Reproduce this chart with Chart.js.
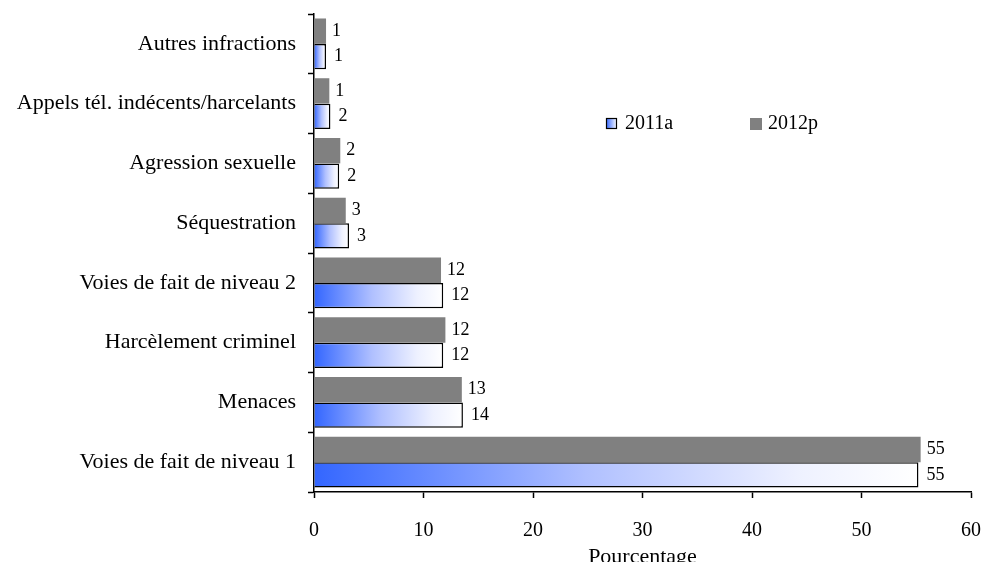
<!DOCTYPE html>
<html>
<head>
<meta charset="utf-8">
<script src="https://cdn.jsdelivr.net/npm/chart.js@4.4.1/dist/chart.umd.min.js"></script>
<style>
    html, body { margin: 0; padding: 0; background: #fff; overflow: hidden; }
    #wrap { width: 984px; height: 562px; }
</style>
</head>
<body>
<div id="wrap"><canvas id="grafico" width="984" height="562"></canvas></div>
<script>
const categories = [
    'Autres infractions',
    'Appels tél. indécents/harcelants',
    'Agression sexuelle',
    'Séquestration',
    'Voies de fait de niveau 2',
    'Harcèlement criminel',
    'Menaces',
    'Voies de fait de niveau 1'
];
const values2012 = [1.1, 1.4, 2.4, 2.9, 11.6, 12.0, 13.5, 55.4];
const values2011 = [1.1, 1.5, 2.3, 3.2, 11.8, 11.8, 13.6, 55.2];
const labels2012 = ['1', '1', '2', '3', '12', '12', '13', '55'];
const labels2011 = ['1', '2', '2', '3', '12', '12', '14', '55'];
const seriesNames = ['2011a', '2012p'];

const FONT = "'Liberation Serif', 'Times New Roman', serif";

function gradientFill(context) {
    const chart = context.chart;
    if (!chart.chartArea || context.raw === undefined) return '#3366ff';
    const xs = chart.scales.x;
    const x0 = xs.getPixelForValue(0);
    const x1 = xs.getPixelForValue(context.raw);
    const g = chart.ctx.createLinearGradient(x0, 0, x1, 0);
    g.addColorStop(0, '#3366ff');
    g.addColorStop(0.45, '#b0c0ff');
    g.addColorStop(0.8, '#eef1ff');
    g.addColorStop(1, '#ffffff');
    return g;
}

// etiquetas de valor al final de cada barra
const valueLabels = {
    id: 'valueLabels',
    afterDatasetsDraw(chart) {
        const ctx = chart.ctx;
        const texts = [labels2012, labels2011];
        ctx.save();
        ctx.font = '18px ' + FONT;
        ctx.fillStyle = '#000';
        ctx.textBaseline = 'middle';
        ctx.textAlign = 'left';
        chart.data.datasets.forEach((ds, i) => {
            const gap = i === 0 ? 6 : 8;
            chart.getDatasetMeta(i).data.forEach((bar, j) => {
                ctx.fillText(texts[i][j], bar.x + gap, bar.y);
            });
        });
        ctx.restore();
    }
};

// leyenda dentro del area del grafico
const insideLegend = {
    id: 'insideLegend',
    afterDraw(chart) {
        const ctx = chart.ctx;
        ctx.save();
        // 2011a
        const g = ctx.createLinearGradient(606, 0, 617, 0);
        g.addColorStop(0, '#3366ff');
        g.addColorStop(1, '#ffffff');
        ctx.fillStyle = g;
        ctx.fillRect(606, 118, 11, 11);
        ctx.strokeStyle = '#000';
        ctx.lineWidth = 1.2;
        ctx.strokeRect(606.5, 118.5, 10, 10);
        // 2012p
        ctx.fillStyle = '#808080';
        ctx.fillRect(750, 118, 12, 12);
        ctx.font = '20px ' + FONT;
        ctx.fillStyle = '#000';
        ctx.textBaseline = 'middle';
        ctx.fillText(seriesNames[0], 625, 124);
        ctx.fillText(seriesNames[1], 768, 124);
        ctx.restore();
    }
};

new Chart(document.getElementById('grafico'), {
    type: 'bar',
    data: {
        labels: categories,
        datasets: [
            {
                label: seriesNames[1],
                data: values2012,
                backgroundColor: '#808080',
                borderWidth: 0
            },
            {
                label: seriesNames[0],
                data: values2011,
                backgroundColor: gradientFill,
                borderColor: '#000',
                borderWidth: 1.5
            }
        ]
    },
    options: {
        indexAxis: 'y',
        responsive: false,
        animation: false,
        categoryPercentage: 0.85,
        barPercentage: 1.0,
        layout: { padding: { top: 14, right: 13, left: 0, bottom: 0 } },
        scales: {
            x: {
                min: 0,
                max: 60,
                ticks: {
                    stepSize: 10,
                    color: '#000',
                    font: { family: FONT, size: 20 },
                    padding: 21
                },
                grid: {
                    display: true,
                    drawOnChartArea: false,
                    drawTicks: true,
                    tickLength: 6,
                    tickColor: '#000',
                    tickWidth: 1.5
                },
                border: { display: true, color: '#000', width: 1.5 },
                title: {
                    display: true,
                    text: 'Pourcentage',
                    color: '#000',
                    font: { family: FONT, size: 22 },
                    padding: { top: 0, bottom: -8 }
                },
                afterFit: function(scale) {
                    scale.height = 70;
                    scale.paddingLeft = 0;
                    scale.paddingRight = 0;
                }
            },
            y: {
                ticks: {
                    color: '#000',
                    font: { family: FONT, size: 22 },
                    padding: 12
                },
                grid: {
                    display: true,
                    offset: true,
                    drawOnChartArea: false,
                    drawTicks: true,
                    tickLength: 6,
                    tickColor: '#000',
                    tickWidth: 1.5
                },
                border: { display: true, color: '#000', width: 1.5 },
                afterFit: function(scale) {
                    scale.width = 314;
                    scale.paddingTop = 0;
                    scale.paddingBottom = 0;
                }
            }
        },
        plugins: {
            legend: { display: false },
            tooltip: { enabled: false }
        }
    },
    plugins: [valueLabels, insideLegend]
});
</script>
</body>
</html>
